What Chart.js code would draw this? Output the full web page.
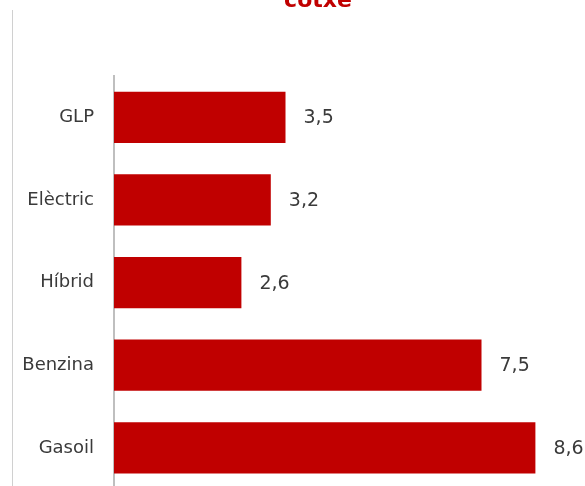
<!DOCTYPE html>
<html lang="ca">
<head>
    <meta charset="UTF-8">
    <title>cotxe</title>
    <script src="https://cdn.jsdelivr.net/npm/chart.js@4/dist/chart.umd.min.js"></script>
    <style>
        html, body { margin: 0; padding: 0; overflow: hidden; background: #fff; }
        #marc { position: absolute; left: 12px; top: 10px; width: 1px; height: 480px; background: #d0d0d0; }
        #caixa { position: absolute; left: 0; top: -20px; width: 585px; height: 540px; }
    </style>
</head>
<body>
    <div id="marc"></div>
    <div id="caixa"><canvas id="grafica"></canvas></div>

    <script>
        const categories = ["GLP", "Elèctric", "Híbrid", "Benzina", "Gasoil"];
        const valors = [3.5, 3.2, 2.6, 7.5, 8.6];
        const titol = "cotxe";

        const vermell = "#C00000";
        const lletra = "'DejaVu Sans', sans-serif";

        // titol i etiquetes de valor dibuixats a ma
        const textos = {
            id: "textos",
            afterDatasetsDraw(chart) {
                const ctx = chart.ctx;
                ctx.save();
                ctx.fillStyle = vermell;
                ctx.font = "bold 22px " + lletra;
                ctx.textAlign = "center";
                ctx.textBaseline = "alphabetic";
                ctx.fillText(titol, 318, 27);

                ctx.fillStyle = "#3a3a3a";
                ctx.font = "19px " + lletra;
                ctx.textAlign = "left";
                ctx.textBaseline = "middle";
                chart.getDatasetMeta(0).data.forEach((barra, i) => {
                    ctx.fillText(valors[i].toString().replace(".", ","), barra.x + 18, barra.y + 1);
                });
                ctx.restore();
            }
        };

        new Chart(document.getElementById("grafica"), {
            type: "bar",
            data: {
                labels: categories,
                datasets: [{
                    data: valors,
                    backgroundColor: vermell,
                    categoryPercentage: 0.62,
                    barPercentage: 1
                }]
            },
            options: {
                indexAxis: "y",
                responsive: true,
                maintainAspectRatio: false,
                animation: false,
                layout: { padding: { top: 96, right: 30, bottom: 29, left: 0 } },
                plugins: {
                    legend: { display: false },
                    title: { display: false },
                    tooltip: { enabled: false }
                },
                scales: {
                    x: { display: false, min: 0, max: 9 },
                    y: {
                        afterFit(scale) { scale.width = 114; },
                        grid: { display: false, drawTicks: false },
                        border: { color: "#bfbfbf", width: 2 },
                        ticks: {
                            color: "#3a3a3a",
                            padding: 20,
                            font: { family: lletra, size: 18 }
                        }
                    }
                }
            },
            plugins: [textos]
        });
    </script>
</body>
</html>
